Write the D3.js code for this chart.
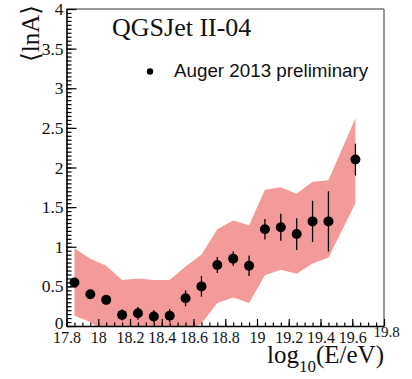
<!DOCTYPE html>
<html>
<head>
<meta charset="utf-8">
<script src="https://cdn.jsdelivr.net/npm/d3@7"></script>
<style>
  body { margin: 0; background: #fff; }
  svg { display: block; }
  .serif { font-family: "Liberation Serif", "Times New Roman", "DejaVu Serif", serif; }
</style>
</head>
<body>
<script>
// energy bins, log10(E/eV)
const energy = [17.85, 17.95, 18.05, 18.15, 18.25, 18.35, 18.45, 18.55, 18.65, 18.75, 18.85, 18.95, 19.05, 19.15, 19.25, 19.35, 19.45, 19.62]
// <lnA> measured, Auger 2013 preliminary
const lnA = [0.55, 0.40, 0.33, 0.14, 0.16, 0.12, 0.13, 0.35, 0.50, 0.77, 0.85, 0.76, 1.22, 1.245, 1.16, 1.32, 1.32, 2.10]
const lnAErr = [0.05, 0.05, 0.06, 0.07, 0.08, 0.08, 0.08, 0.10, 0.13, 0.10, 0.09, 0.13, 0.13, 0.17, 0.20, 0.26, 0.38, 0.20]
// systematic band
const bandLow = [0.13, 0.05, -0.10, -0.20, -0.20, -0.20, -0.20, -0.10, 0.03, 0.29, 0.36, 0.29, 0.64, 0.71, 0.66, 0.79, 0.86, 1.55]
const bandHigh = [0.98, 0.85, 0.76, 0.58, 0.60, 0.58, 0.58, 0.75, 0.90, 1.22, 1.33, 1.27, 1.72, 1.75, 1.67, 1.82, 1.84, 2.62]

const xTicks = [17.8, 18, 18.2, 18.4, 18.6, 18.8, 19, 19.2, 19.4, 19.6, 19.8]
const yTicks = [0, 0.5, 1, 1.5, 2, 2.5, 3, 3.5, 4]

const W = 412, H = 379
const mLeft = 66.5, mRight = 384, mTop = 9, mBottom = 326

const svg = d3.select("body").append("svg")
    .attr("width", W)
    .attr("height", H)

const x = d3.scaleLinear().domain([17.8, 19.8]).range([mLeft, mRight])
const y = d3.scaleLinear().domain([0, 4]).range([mBottom, mTop])

svg.append("clipPath").attr("id", "plot")
    .append("rect")
    .attr("x", mLeft).attr("y", mTop)
    .attr("width", mRight - mLeft).attr("height", mBottom - mTop)

// band
const rows = energy.map((e, i) => ({ e: e, lo: bandLow[i], hi: bandHigh[i], v: lnA[i], err: lnAErr[i] }))

svg.append("path")
    .datum(rows)
    .attr("clip-path", "url(#plot)")
    .attr("fill", "#f39a9a")
    .attr("d", d3.area()
        .x(d => x(d.e))
        .y0(d => y(d.lo))
        .y1(d => y(d.hi)))

// frame top / right
svg.append("line").attr("x1", mLeft).attr("x2", mRight).attr("y1", mTop).attr("y2", mTop)
    .attr("stroke", "#777").attr("stroke-width", 1.5)
svg.append("line").attr("x1", mRight).attr("x2", mRight).attr("y1", mTop).attr("y2", mBottom)
    .attr("stroke", "#777").attr("stroke-width", 1.5)

// minor ticks
const xMinor = d3.range(17.8, 19.8001, 0.05)
const yMinor = d3.range(0, 4.0001, 0.05)

svg.append("g")
    .attr("transform", `translate(0,${mBottom})`)
    .call(d3.axisBottom(x).tickValues(xMinor).tickSize(-3.5).tickSizeOuter(0).tickFormat(""))
    .call(g => g.select(".domain").remove())

svg.append("g")
    .attr("transform", `translate(${mLeft},0)`)
    .call(d3.axisLeft(y).tickValues(yMinor).tickSize(-5).tickSizeOuter(0).tickFormat(""))
    .call(g => g.select(".domain").remove())

// major axes
const xAxis = svg.append("g")
    .attr("transform", `translate(0,${mBottom})`)
    .call(d3.axisBottom(x).tickValues(xTicks).tickSize(-7).tickSizeOuter(0).tickPadding(6).tickFormat(d => d))

const yAxis = svg.append("g")
    .attr("transform", `translate(${mLeft},0)`)
    .call(d3.axisLeft(y).tickValues(yTicks).tickSize(-10).tickSizeOuter(0).tickPadding(3).tickFormat(d => d))

svg.selectAll(".tick line").attr("stroke", "#000").attr("stroke-width", 1.2)
svg.selectAll(".domain").attr("stroke", "#000").attr("stroke-width", 1.6)

xAxis.attr("font-family", null).attr("font-size", null)
xAxis.selectAll("text")
    .attr("class", "serif")
    .attr("font-size", 16)
    .attr("fill", "#111")
xAxis.selectAll(".tick").filter(d => d === 19.8).select("text")
    .attr("y", 0)
    .attr("x", 2)
    .attr("font-size", 15)

yAxis.attr("font-family", null).attr("font-size", null)
yAxis.selectAll("text")
    .attr("class", "serif")
    .attr("font-size", 17.5)
    .attr("fill", "#111")
yAxis.selectAll(".tick").filter(d => d === 0).select("text")
    .attr("dy", "0.15em")

// error bars and points
svg.append("g")
    .selectAll("line")
    .data(rows)
    .join("line")
    .attr("x1", d => x(d.e)).attr("x2", d => x(d.e))
    .attr("y1", d => y(d.v - d.err)).attr("y2", d => y(d.v + d.err))
    .attr("stroke", "#000")
    .attr("stroke-width", 1.3)

svg.append("g")
    .selectAll("circle")
    .data(rows)
    .join("circle")
    .attr("cx", d => x(d.e))
    .attr("cy", d => y(d.v))
    .attr("r", 5)
    .attr("fill", "#000")

// texts
svg.append("text")
    .attr("class", "serif")
    .attr("x", 112).attr("y", 36)
    .attr("font-size", 26)
    .attr("fill", "#111")
    .text("QGSJet II-04")

svg.append("circle")
    .attr("cx", 150).attr("cy", 71.5).attr("r", 3.2)
    .attr("fill", "#000")

svg.append("text")
    .attr("x", 174).attr("y", 77)
    .attr("font-family", "Liberation Sans, Arial, sans-serif")
    .attr("font-size", 18.8)
    .attr("fill", "#111")
    .text("Auger 2013 preliminary")

svg.append("text")
    .attr("class", "serif")
    .attr("transform", "translate(39,5) rotate(-90)")
    .attr("text-anchor", "end")
    .attr("font-size", 25)
    .attr("fill", "#111")
    .text("⟨lnA⟩")

const xt = svg.append("text")
    .attr("class", "serif")
    .attr("x", 384).attr("y", 363)
    .attr("text-anchor", "end")
    .attr("font-size", 25)
    .attr("fill", "#111")
xt.append("tspan").text("log")
xt.append("tspan").attr("dy", 9).attr("font-size", 17).text("10")
xt.append("tspan").attr("dy", -9).text("(E/eV)")
</script>
</body>
</html>
